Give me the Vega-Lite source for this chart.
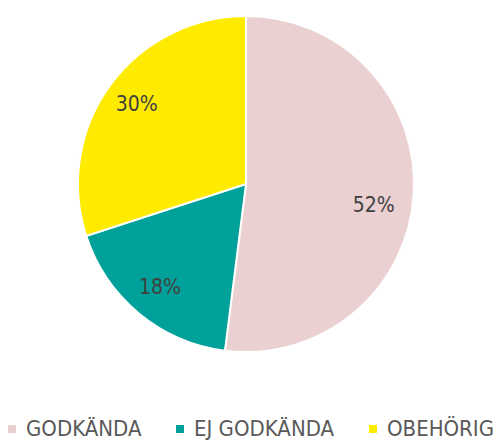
{
  "$schema": "https://vega.github.io/schema/vega-lite/v6.json",
  "width": 492,
  "height": 368,
  "padding": {"left": 0, "top": 0, "right": 2, "bottom": 72},
  "autosize": {"type": "none"},
  "background": "white",
  "data": {"values": [
    {"kategori": "GODKÄNDA", "andel": 52, "ordning": 1, "etikett": "52%"},
    {"kategori": "EJ GODKÄNDA", "andel": 18, "ordning": 2, "etikett": "18%"},
    {"kategori": "OBEHÖRIG", "andel": 30, "ordning": 3, "etikett": "30%"}
  ]},
  "encoding": {
    "theta": {"field": "andel", "type": "quantitative", "stack": true},
    "order": {"field": "ordning", "type": "quantitative"},
    "color": {
      "field": "kategori", "type": "nominal",
      "scale": {"domain": ["GODKÄNDA", "EJ GODKÄNDA", "OBEHÖRIG"], "range": ["#EBD0D1", "#00A19A", "#FFEB00"]},
      "legend": {
        "title": null, "orient": "none", "legendX": 1, "legendY": 418, "direction": "horizontal",
        "padding": 0,
        "symbolType": "square", "symbolSize": 64, "symbolStrokeWidth": 0,
        "labelFont": "DejaVu Sans Condensed", "labelFontSize": 22, "labelColor": "#595959",
        "columnPadding": 27, "labelOffset": 3, "labelLimit": 300
      }
    }
  },
  "layer": [
    {"mark": {"type": "arc", "outerRadius": 168, "stroke": "white", "strokeWidth": 2}},
    {"mark": {"type": "text", "radius": 135, "font": "DejaVu Sans Condensed", "fontSize": 21},
     "encoding": {
       "text": {"field": "etikett"},
       "color": {"value": "#404040"},
       "opacity": {"condition": {"test": "datum.kategori == 'GODKÄNDA'", "value": 0}, "value": 1}
     }},
    {"mark": {"type": "text", "radius": 132, "dy": 14, "dx": -4, "font": "DejaVu Sans Condensed", "fontSize": 21},
     "encoding": {
       "text": {"field": "etikett"},
       "color": {"value": "#404040"},
       "opacity": {"condition": {"test": "datum.kategori == 'GODKÄNDA'", "value": 1}, "value": 0}
     }}
  ]
}
